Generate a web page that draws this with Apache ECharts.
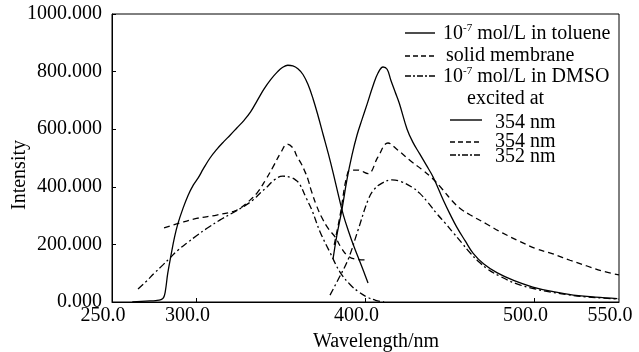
<!DOCTYPE html>
<html>
<head>
<meta charset="utf-8">
<script src="https://cdn.jsdelivr.net/npm/echarts@6/dist/echarts.min.js"></script>
<style>
html,body{margin:0;padding:0;background:#fff;}
#c{width:639px;height:352px;}
</style>
</head>
<body>
<div id="c"></div>
<script>
// ---- data (wavelength nm / intensity) ----
const xTickLabels = [250, 300, 400, 500, 550];
const xTickMarks = [300, 400, 500];

// toluene, excitation (solid, left)
const tolExWl = [262, 270, 276, 279, 280.5, 281.5, 283, 285, 287, 289, 292, 295, 298, 301, 304, 308, 312, 316, 320, 324, 328, 332, 336, 340, 344, 348, 351, 354, 357, 360, 363, 366, 369, 372, 375, 378, 381, 384, 387, 390, 393, 396, 399, 401.5];
const tolExI  = [0, 3, 5, 8, 15, 35, 100, 165, 225, 272, 325, 370, 405, 431, 462, 500, 530, 556, 580, 605, 630, 660, 700, 740, 773, 800, 815, 822, 820, 810, 790, 755, 705, 645, 580, 515, 445, 370, 300, 245, 195, 150, 105, 66];
// toluene, emission (solid, right)
const tolEmWl = [380.8, 383, 386, 389, 392, 395, 398, 401, 404.4, 407.4, 410.4, 412.8, 415, 417.5, 420, 424.6, 428, 432, 436, 440, 446, 450, 454, 459, 463.6, 470, 478, 488, 499, 511, 523, 536, 549];
const tolEmI  = [150, 230, 319, 424, 510, 580, 635, 688, 750, 795, 816, 808, 770, 730, 690, 600, 555, 515, 475, 434, 354, 305, 260, 212, 170, 132, 101, 74, 52, 36, 24, 17, 12];
// solid membrane, excitation (dashed, left)
const memExWl = [280.8, 290, 300, 312, 322, 326, 331, 336, 341, 345.3, 350, 353.6, 357, 359.5, 362, 364, 366, 368, 371, 374, 378, 382, 386, 390, 395, 400.5];
const memExI  = [257, 274, 290, 302, 315, 326, 350, 380, 425, 469, 520, 548, 535, 505, 480, 455, 425, 385, 335, 295, 255, 226, 185, 158, 148, 146];
// solid membrane, emission (dashed, right)
const memEmWl = [381.5, 385, 389.6, 392.5, 395.5, 401.5, 407.4, 413.3, 419.2, 427.3, 433, 439.5, 445, 451.5, 456, 461.8, 471.9, 481, 491.4, 501, 510.9, 521, 531.1, 540, 550];
const memEmI  = [198, 302, 451, 458, 458, 446, 504, 552, 527, 487, 462, 430, 395, 350, 325, 303, 270, 240, 210, 185, 167, 145, 125, 108, 94];
// DMSO, excitation (dash-dot, left)
const dmsoExWl = [265.4, 270, 275, 280, 284.3, 289, 294.4, 300, 306, 314, 321.6, 328, 333.4, 338, 341.7, 346, 351, 356, 359, 361, 365, 368.3, 373, 379, 385, 391, 396, 401, 406, 411];
const dmsoExI  = [45, 70, 100, 128, 153, 180, 205, 230, 255, 285, 310, 332, 354, 380, 399, 424, 437, 432, 422, 410, 360, 319, 245, 172, 103, 60, 35, 17, 6, 0];
// DMSO, emission (dash-dot, right)
const dmsoEmWl = [379, 384, 389.6, 395.6, 401.5, 405, 409.8, 415.7, 421, 427.5, 432, 437, 442, 447, 452, 457, 462, 467, 472, 480, 490, 500, 510, 520, 530, 540, 550];
const dmsoEmI  = [24, 80, 146, 250, 354, 390, 413, 424, 418, 399, 378, 345, 308, 275, 240, 205, 170, 140, 115, 88, 62, 46, 34, 25, 18, 14, 10];

const zip = (a, b) => a.map((v, i) => [v, b[i]]);

const FONT = '"Liberation Serif", "Times New Roman", serif';
const DASH = [6, 4];
const DASHDOT = [7, 3, 2, 3];

function mk(name, wl, val, type) {
  return {
    name: name, type: 'line', data: zip(wl, val), showSymbol: false, symbol: 'none',
    smooth: 0.4, animation: false,
    lineStyle: { color: '#000', width: 1.3, type: type }
  };
}

const chart = echarts.init(document.getElementById('c'), null, { renderer: 'canvas' });

function legendLine(x1, x2, y, type) {
  return { type: 'line', shape: { x1: x1, y1: y, x2: x2, y2: y },
    style: { stroke: '#000', lineWidth: 1.4, lineDash: type === 'solid' ? null : type } };
}
function legendText(x, y, text, rich) {
  const o = { type: 'text', x: x, y: y,
    style: { text: text, font: '20px ' + FONT, fill: '#000', verticalAlign: 'middle', align: 'left' } };
  if (rich) {
    o.style.rich = {
      n: { fontSize: 20, fontFamily: FONT, fill: '#000', lineHeight: 22 },
      s: { fontSize: 11, fontFamily: FONT, fill: '#000', verticalAlign: 'top', lineHeight: 11 }
    };
  }
  return o;
}

chart.setOption({
  backgroundColor: '#fff',
  animation: false,
  grid: { left: 112, right: 20, top: 14, bottom: 50, show: true, borderColor: '#000', borderWidth: 1 },
  xAxis: {
    type: 'value', min: 250, max: 550,
    axisLine: { lineStyle: { color: '#000', width: 1 } },
    axisTick: { inside: true, length: 4, customValues: xTickMarks, lineStyle: { color: '#000' } },
    axisLabel: { customValues: xTickLabels, formatter: v => v.toFixed(1), fontFamily: FONT, fontSize: 20,
      color: '#000', margin: 4, padding: [0, 18, 0, 0] },
    splitLine: { show: false }
  },
  yAxis: {
    type: 'value', min: 0, max: 1000, interval: 200,
    axisLine: { show: true, lineStyle: { color: '#000', width: 1 } },
    axisTick: { show: true, inside: true, length: 4, lineStyle: { color: '#000' } },
    axisLabel: { formatter: v => v.toFixed(3), fontFamily: FONT, fontSize: 20, color: '#000', margin: 10 },
    splitLine: { show: false }
  },
  series: [
    mk('toluene excitation', tolExWl, tolExI, 'solid'),
    mk('toluene emission', tolEmWl, tolEmI, 'solid'),
    mk('membrane excitation', memExWl, memExI, DASH),
    mk('membrane emission', memEmWl, memEmI, DASH),
    mk('DMSO excitation', dmsoExWl, dmsoExI, DASHDOT),
    mk('DMSO emission', dmsoEmWl, dmsoEmI, DASHDOT)
  ],
  graphic: [
    legendLine(405, 435, 33, 'solid'),
    legendText(443, 34, '{n|10}{s|-7}{n| mol/L in toluene}', true),
    legendLine(405, 435, 56, [5, 3]),
    legendText(446, 56, 'solid membrane'),
    legendLine(405, 435, 76, [6, 2, 2, 2]),
    legendText(443, 77, '{n|10}{s|-7}{n| mol/L in DMSO}', true),
    legendText(467, 99, 'excited at'),
    legendLine(450, 482, 120, 'solid'),
    legendText(495, 123, '354 nm'),
    legendLine(450, 482, 142, [5, 3]),
    legendText(495, 142, '354 nm'),
    legendLine(450, 482, 155, [6, 2, 2, 2]),
    legendText(495, 157, '352 nm'),
    { type: 'text', x: 376, y: 342,
      style: { text: 'Wavelength/nm', font: '20px ' + FONT, fill: '#000', align: 'center', verticalAlign: 'middle' } },
    { type: 'text', x: 20, y: 175, rotation: Math.PI / 2,
      style: { text: 'Intensity', font: '20px ' + FONT, fill: '#000', align: 'center', verticalAlign: 'middle' } }
  ]
});
</script>
</body>
</html>
